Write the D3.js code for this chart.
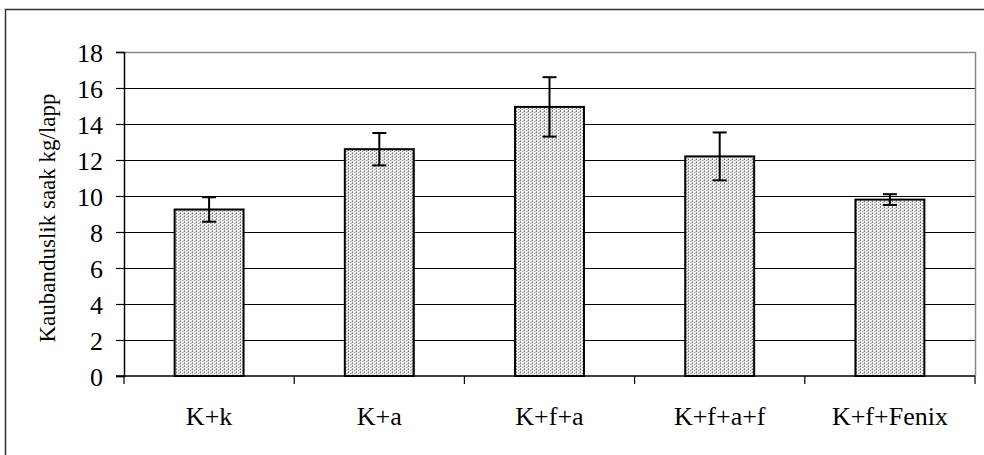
<!DOCTYPE html>
<html>
<head>
<meta charset="utf-8">
<script src="https://cdn.jsdelivr.net/npm/d3@7/dist/d3.min.js"></script>
<style>
  html, body { margin: 0; padding: 0; background: #fff; }
  svg { display: block; }
</style>
</head>
<body>
<script>
// Yield per plot (kg), mean and error per treatment
const categories = ["K+k", "K+a", "K+f+a", "K+f+a+f", "K+f+Fenix"];
const means = [9.25, 12.6, 14.95, 12.2, 9.8];
const errors = [0.68, 0.9, 1.65, 1.33, 0.3];
const yTicks = [0, 2, 4, 6, 8, 10, 12, 14, 16, 18];
const yLabel = "Kaubanduslik saak kg/lapp";

const W = 984, H = 455;
const plot = { left: 124, right: 975, top: 52, bottom: 376 };
const FONT = "'Liberation Serif', 'Times New Roman', serif";

const svg = d3.select("body").append("svg")
  .attr("width", W).attr("height", H);

// stippled fill used for the bars
const defs = svg.append("defs");
const pat = defs.append("pattern")
  .attr("id", "stipple")
  .attr("patternUnits", "userSpaceOnUse")
  .attr("width", 4).attr("height", 3);
pat.append("rect").attr("width", 4).attr("height", 3).attr("fill", "#f2f2f2");
pat.append("rect").attr("x", 0).attr("y", 0).attr("width", 1).attr("height", 1).attr("fill", "#6e6e6e");
pat.append("rect").attr("x", 2).attr("y", 1).attr("width", 1).attr("height", 1).attr("fill", "#9a9a9a");
pat.append("rect").attr("x", 0).attr("y", 2).attr("width", 1).attr("height", 1).attr("fill", "#a8a8a8");
pat.append("rect").attr("x", 3).attr("y", 0).attr("width", 1).attr("height", 2).attr("fill", "#d0d0d0");

// outer frame (runs past the right and bottom edges)
svg.append("rect")
  .attr("x", 5.5).attr("y", 9.5)
  .attr("width", W + 20).attr("height", H + 20)
  .attr("fill", "none").attr("stroke", "#333").attr("stroke-width", 1.5);

const x = d3.scaleBand().domain(categories).range([plot.left, plot.right]).paddingInner(0).paddingOuter(0);
const y = d3.scaleLinear().domain([0, 18]).range([plot.bottom, plot.top]);

// gridlines
svg.append("g").selectAll("line")
  .data(yTicks.filter(t => t > 0 && t < 18))
  .join("line")
  .attr("x1", plot.left).attr("x2", plot.right)
  .attr("y1", d => Math.round(y(d)) + 0.5).attr("y2", d => Math.round(y(d)) + 0.5)
  .attr("stroke", "#000").attr("stroke-width", 1);

// plot area border (top and right)
svg.append("path")
  .attr("d", `M${plot.left},${plot.top + 0.5}H${plot.right + 0.5}V${plot.bottom}`)
  .attr("fill", "none").attr("stroke", "#8a8a8a").attr("stroke-width", 1.5);

// bars
const barW = x.bandwidth() * 0.405;
svg.append("g").selectAll("rect")
  .data(categories)
  .join("rect")
  .attr("x", d => x(d) + x.bandwidth() / 2 - barW / 2)
  .attr("y", (d, i) => y(means[i]))
  .attr("width", barW)
  .attr("height", (d, i) => y(0) - y(means[i]))
  .attr("fill", "url(#stipple)")
  .attr("stroke", "#000").attr("stroke-width", 2);

// error bars
const capW = 14;
const eb = svg.append("g").attr("stroke", "#000").attr("stroke-width", 2);
categories.forEach((c, i) => {
  const cx = x(c) + x.bandwidth() / 2;
  const top = y(means[i] + errors[i]), bot = y(means[i] - errors[i]);
  eb.append("line").attr("x1", cx).attr("x2", cx).attr("y1", top).attr("y2", bot);
  eb.append("line").attr("x1", cx - capW / 2).attr("x2", cx + capW / 2).attr("y1", top).attr("y2", top);
  eb.append("line").attr("x1", cx - capW / 2).attr("x2", cx + capW / 2).attr("y1", bot).attr("y2", bot);
});

// y axis
const yAxis = d3.axisLeft(y).tickValues(yTicks).tickSize(8).tickPadding(13).tickFormat(d3.format("d"));
const gy = svg.append("g").attr("transform", `translate(${plot.left},0)`).call(yAxis);
gy.attr("font-family", null).attr("font-size", null);
gy.select(".domain").attr("stroke", "#000").attr("stroke-width", 1.5);
gy.selectAll(".tick line").attr("stroke", "#000").attr("stroke-width", 1.2);
gy.selectAll(".tick text")
  .style("font-family", FONT).style("font-size", "26px")
  .attr("fill", "#000").attr("dy", "0.36em");

// x axis: ticks at category boundaries
const gx = svg.append("g").attr("transform", `translate(0,${plot.bottom})`);
gx.append("line").attr("x1", plot.left - 8).attr("x2", plot.right).attr("y1", 0).attr("y2", 0)
  .attr("stroke", "#000").attr("stroke-width", 1.5);
const bounds = categories.map(c => x(c)).concat([x.range()[1]]);
gx.selectAll("line.tk").data(bounds).join("line").attr("class", "tk")
  .attr("x1", d => d).attr("x2", d => d).attr("y1", 0).attr("y2", 8)
  .attr("stroke", "#000").attr("stroke-width", 1.2);
gx.selectAll("text").data(categories).join("text")
  .attr("x", d => x(d) + x.bandwidth() / 2)
  .attr("y", 49)
  .attr("text-anchor", "middle")
  .style("font-family", FONT).style("font-size", "26px")
  .attr("fill", "#000")
  .text(d => d);

// y axis title
svg.append("text")
  .attr("transform", `translate(55,218) rotate(-90)`)
  .attr("text-anchor", "middle")
  .style("font-family", FONT).style("font-size", "23px")
  .attr("fill", "#000")
  .text(yLabel);
</script>
</body>
</html>
